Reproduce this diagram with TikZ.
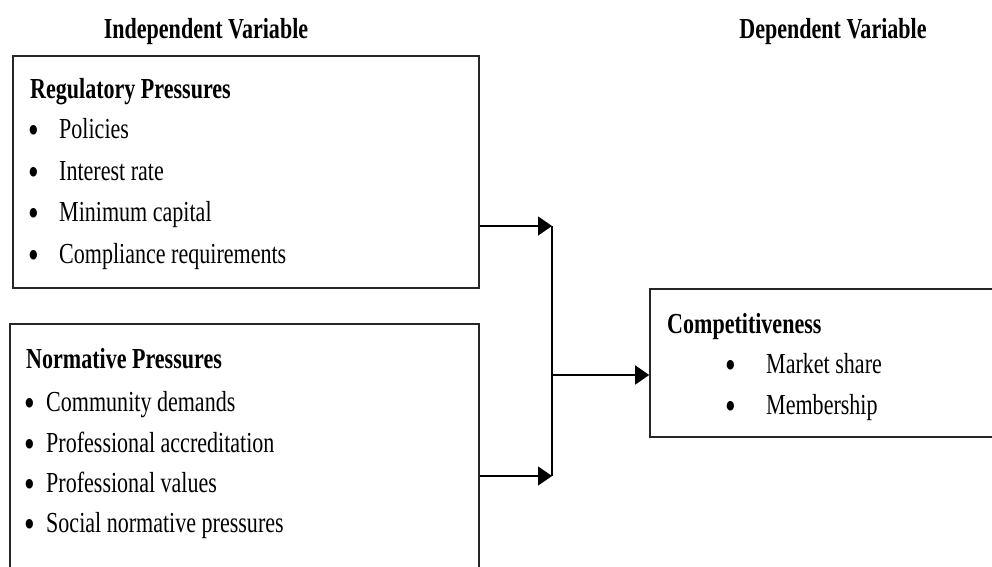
\documentclass[tikz,border=0pt]{standalone}
\usepackage{fontspec}
\setmainfont[FakeStretch=0.76]{Liberation Serif}
\usetikzlibrary{arrows.meta}
\tikzset{
  boxframe/.style={draw=black!85, line width=1.6pt, rectangle, inner sep=0pt},
  conn/.style={draw=black, line width=1.4pt},
  arr/.style={conn, -{Triangle[length=14pt,width=19pt]}},
  txt/.style={anchor=base west, inner sep=0pt, font=\fontsize{29}{32}\selectfont},
  head/.style={txt, font=\fontsize{29}{32}\selectfont\bfseries},
  bul/.style={anchor=base, inner sep=0pt, font=\fontsize{40}{40}\selectfont},
}
\begin{document}
\begin{tikzpicture}[x=1pt,y=-1pt]
\useasboundingbox (0,0) rectangle (992,566);
\clip (0,0) rectangle (992,566);
% titles
\node[head, anchor=base] (tind) at (206,38) {Independent Variable};
\node[head, anchor=base] (tdep) at (833,38) {Dependent Variable};
% boxes
\node[boxframe, minimum width=466pt, minimum height=232pt] (reg) at (246,172) {};
\node[boxframe, minimum width=469pt, minimum height=300pt] (norm) at (244.5,474) {};
\node[boxframe, minimum width=370pt, minimum height=148pt] (comp) at (835,363) {};
% regulatory text
\node[head] (rh) at (30,98) {Regulatory Pressures};
\foreach \t/\y [count=\i] in {Policies/138, Interest rate/180, Minimum capital/221, Compliance requirements/263}{
  \node[bul] (rb\i) at (34,\y+5) {\textbullet};
  \node[txt] (rt\i) at (59,\y) {\t};
}
% normative text
\node[head] (nh) at (26,368) {Normative Pressures};
\foreach \t/\y [count=\i] in {Community demands/411, Professional accreditation/452, Professional values/492, Social normative pressures/532}{
  \node[bul] (nb\i) at (30,\y+5) {\textbullet};
  \node[txt] (nt\i) at (46,\y) {\t};
}
% competitiveness text
\node[head] (ch) at (667,333) {Competitiveness};
\foreach \t/\y [count=\i] in {Market share/373, Membership/414}{
  \node[bul] (cb\i) at (731,\y+5) {\textbullet};
  \node[txt] (ct\i) at (766,\y) {\t};
}
% connectors
\coordinate (j1) at (552,226);
\coordinate (j2) at (552,476);
\coordinate (jm) at (552,375);
\draw[arr] (reg.east |- j1) -- (j1);
\draw[arr] (norm.east |- j2) -- (j2);
\draw[conn] (j1) -- (j2);
\draw[arr] (jm) -- (comp.west |- jm);
\end{tikzpicture}
\end{document}
